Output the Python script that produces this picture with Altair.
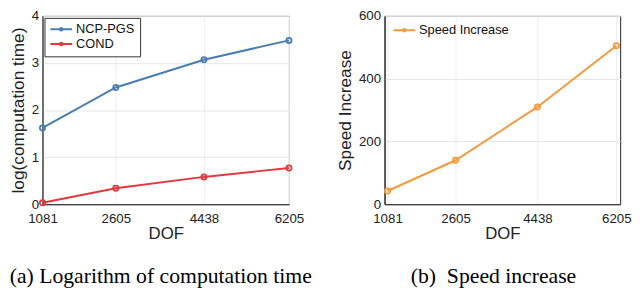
import altair as alt
import pandas as pd

dof = [1081, 2605, 4438, 6205]
ncp_pgs = [1.62, 2.48, 3.07, 3.48]
cond = [0.03, 0.34, 0.58, 0.77]
speed = [42, 140, 310, 505]

left_df = pd.DataFrame({
    "DOF": dof * 2,
    "value": ncp_pgs + cond,
    "series": ["NCP-PGS"] * 4 + ["COND"] * 4,
})
right_df = pd.DataFrame({"DOF": dof, "value": speed, "series": ["Speed Increase"] * 4})

# legend symbol: short line with a small open circle in the middle
SYM = "M-1,0L0.78,0M1.22,0L3,0M0.78,0A0.22,0.22 0 1,1 1.22,0A0.22,0.22 0 1,1 0.78,0Z"
FONT = "Liberation Sans"
TXT = "#222"


def xaxis():
    return alt.Axis(values=dof, format="d", title="DOF", labelFont=FONT, titleFont=FONT,
                    labelFontSize=13.5, titleFontSize=17, titleFontWeight="normal",
                    labelColor=TXT, titleColor=TXT, ticks=False, labelPadding=8,
                    titlePadding=0, gridColor="#ececec", domainColor=TXT,
                    labelFlush=False, labelOverlap=False)


def yaxis(vals, title):
    return alt.Axis(values=vals, format="d", title=title, labelFont=FONT, titleFont=FONT,
                    labelFontSize=13.5, titleFontSize=17.5, titleFontWeight="normal",
                    labelColor=TXT, titleColor=TXT, ticks=False, labelPadding=4,
                    titlePadding=4, gridColor="#e6e6e6", domainColor=TXT)


def legend(**kw):
    return alt.Legend(title=None, orient="top-left", symbolType=SYM, symbolSize=121,
                      symbolStrokeWidth=2, labelFont=FONT, labelFontSize=13,
                      labelColor="#111", labelOffset=14, rowPadding=1, **kw)


def caption(text, dx):
    return alt.TitleParams(text, orient="bottom", font="Liberation Serif", fontSize=22,
                           fontWeight="normal", color="black", offset=25, anchor="middle",
                           dx=dx)


left = alt.Chart(left_df).mark_line(
    strokeWidth=2, point=alt.OverlayMarkDef(filled=False, size=28, strokeWidth=1.8)
).encode(
    x=alt.X("DOF:Q", scale=alt.Scale(domain=[1081, 6205], nice=False, zero=False), axis=xaxis()),
    y=alt.Y("value:Q", scale=alt.Scale(domain=[0, 4], nice=False),
            axis=yaxis([0, 1, 2, 3, 4], "log(computation time)")),
    color=alt.Color("series:N",
                    scale=alt.Scale(domain=["NCP-PGS", "COND"], range=["#4a7eb0", "#e0393e"]),
                    legend=legend(offset=2, fillColor="white", strokeColor="#333", padding=5)),
).properties(width=250, height=191,
             title=caption("(a) Logarithm of computation time", -5))

right = alt.Chart(right_df).mark_line(
    strokeWidth=2, point=alt.OverlayMarkDef(filled=False, size=28, strokeWidth=1.8)
).encode(
    x=alt.X("DOF:Q", scale=alt.Scale(domain=[1015, 6290], nice=False, zero=False), axis=xaxis()),
    y=alt.Y("value:Q", scale=alt.Scale(domain=[0, 600], nice=False),
            axis=yaxis([0, 200, 400, 600], "Speed Increase")),
    color=alt.Color("series:N", scale=alt.Scale(range=["#f39a3c"]),
                    legend=legend(offset=4, padding=4)),
).properties(width=239, height=191,
             title=caption("(b)\u00a0\u00a0Speed increase", -9))

chart = alt.hconcat(left, right, spacing=97, bounds="flush").resolve_scale(
    color="independent"
).properties(
    padding={"left": 0, "top": -2, "right": 0, "bottom": 0}
).configure(font=FONT).configure_view(stroke=TXT, strokeWidth=1)

chart.save("out.html", embed_options={"renderer": "svg", "actions": False})
